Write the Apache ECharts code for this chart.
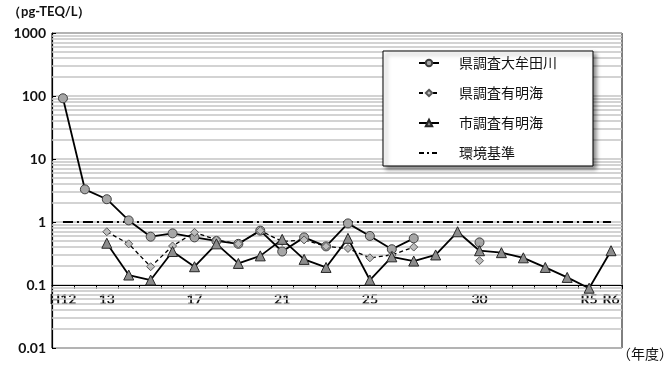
<!DOCTYPE html>
<html>
<head>
<meta charset="utf-8">
<script src="https://cdn.jsdelivr.net/npm/echarts@6/dist/echarts.min.js"></script>
<style>html,body{margin:0;padding:0;background:#fff;}#c{width:665px;height:372px;}</style>
</head>
<body>
<div id="c"></div>
<script>
var categories = ['H12','H12b','H13','H14','H15','H16','H17','H18','H19','H20','H21','H22','H23','H24','H25','H26','H27','H28','H29','H30','R1','R2','R3','R4','R5','R6'];
var tickLabels = ['H12','','13','','','','17','','','','21','','','','25','','','','','30','','','','','R5','R6'];
var omutaRiver = [92, 3.3, 2.3, 1.06, 0.585, 0.66, 0.57, 0.50, 0.45, 0.73, 0.34, 0.57, 0.41, 0.95, 0.60, 0.37, 0.55, null, null, 0.475, null, null, null, null, null, null];
var prefAriake = [null, null, 0.70, 0.45, 0.195, 0.416, 0.685, 0.52, 0.45, 0.73, 0.49, 0.52, 0.41, 0.38, 0.27, 0.30, 0.40, null, null, 0.243, null, null, null, null, null, null];
var cityAriake = [null, null, 0.46, 0.144, 0.12, 0.34, 0.195, 0.45, 0.22, 0.29, 0.53, 0.255, 0.19, 0.55, 0.12, 0.28, 0.24, 0.30, 0.70, 0.35, 0.326, 0.27, 0.19, 0.132, 0.089, 0.35];
var standard = [1,1,1,1,1,1,1,1,1,1,1,1,1,1,1,1,1,1,1,1,1,1,1,1,1,1];
var decades = [0.01, 0.1, 1, 10, 100];
var minorSteps = [2,3,4,5,6,7,8,9];

var minorLines = [];
decades.forEach(function(d){ minorSteps.forEach(function(k){ minorLines.push({yAxis: +(d*k).toPrecision(3)}); }); });

var chart = echarts.init(document.getElementById('c'), null, {renderer:'canvas'});
var fontLat = 'Lato, "Open Sans", sans-serif';
var fontJp = '"Noto Sans CJK JP", sans-serif';
chart.setOption({
  animation: false,
  backgroundColor: '#fff',
  grid: {left: 52, top: 33, right: 43, bottom: 24, show: true, borderColor: '#000', borderWidth: 1, backgroundColor: 'transparent'},
  xAxis: {
    type: 'category', data: categories, boundaryGap: true, position: 'bottom', offset: -63,
    axisLine: {show: true, lineStyle: {color: '#000', width: 1.2}},
    axisTick: {show: true, interval: 0, length: 4, inside: false, lineStyle: {color: '#000'}},
    axisLabel: {interval: 0, margin: 7, fontFamily: fontLat, fontWeight: 'bold', fontSize: 14, color: '#111',
      formatter: function(v, i){ return tickLabels[i]; }},
    splitLine: {show: false}
  },
  yAxis: {
    type: 'log', logBase: 10, min: 0.01, max: 1000,
    axisLine: {show: true, lineStyle: {color: '#000', width: 1.2}},
    axisTick: {show: true, inside: true, length: 4, lineStyle: {color: '#000'}},
    axisLabel: {margin: 6, fontFamily: fontLat, fontWeight: 'bold', fontSize: 14, color: '#111',
      formatter: function(v){ return String(+v.toPrecision(3)); }},
    splitLine: {show: true, lineStyle: {color: '#c4c4c4', width: 1.5}}
  },
  legend: {
    orient: 'vertical', left: 383, top: 51,
    padding: [5, 36, 6, 35], itemWidth: 20, itemHeight: 8, itemGap: 16,
    backgroundColor: '#fff', borderColor: '#000', borderWidth: 1,
    shadowColor: 'rgba(0,0,0,0.45)', shadowBlur: 4, shadowOffsetX: 3, shadowOffsetY: 3,
    textStyle: {fontFamily: fontJp, fontSize: 14, color: '#111', padding: [0,0,0,15]},
    data: [
      {name: '県調査大牟田川'},
      {name: '県調査有明海'},
      {name: '市調査有明海'},
      {name: '環境基準', itemStyle: {color: 'rgba(0,0,0,0)', borderColor: 'rgba(0,0,0,0)', borderWidth: 0}, lineStyle: {type: [5,3,2,3], width: 2}}
    ]
  },
  graphic: [
    {type: 'text', left: 8, top: 5, style: {text: '（pg-TEQ/L）', font: 'bold 13px ' + fontLat, fill: '#111'}},
    {type: 'text', left: 617, top: 347, style: {text: '（年度）', font: '14px ' + fontJp, fill: '#111'}}
  ],
  series: [
    {name: 'grid-minor', type: 'line', data: [], silent: true, z: 1,
      markLine: {silent: true, symbol: ['none','none'], label: {show: false}, z: 1,
        lineStyle: {color: '#c4c4c4', width: 1.5, type: 'solid'}, data: minorLines}},
    {name: '環境基準', type: 'line', data: standard, symbol: 'none', z: 2,
      lineStyle: {color: '#000', width: 2, type: [10,4,2,4]}, itemStyle: {color: '#000'}},
    {name: '県調査大牟田川', type: 'line', data: omutaRiver, connectNulls: false, z: 3,
      symbol: 'circle', symbolSize: 9, showAllSymbol: true,
      lineStyle: {color: '#000', width: 1.8},
      itemStyle: {color: '#a6a6a6', borderColor: '#404040', borderWidth: 1}},
    {name: '県調査有明海', type: 'line', data: prefAriake, connectNulls: false, z: 3,
      symbol: 'diamond', symbolSize: 8, showAllSymbol: true,
      lineStyle: {color: '#000', width: 1.3, type: [4,3]},
      itemStyle: {color: '#bdbdbd', borderColor: '#595959', borderWidth: 1}},
    {name: '市調査有明海', type: 'line', data: cityAriake, connectNulls: false, z: 3,
      symbol: 'triangle', symbolSize: 10, showAllSymbol: true,
      lineStyle: {color: '#000', width: 1.8},
      itemStyle: {color: '#8c8c8c', borderColor: '#262626', borderWidth: 1}}
  ]
});
</script>
</body>
</html>
